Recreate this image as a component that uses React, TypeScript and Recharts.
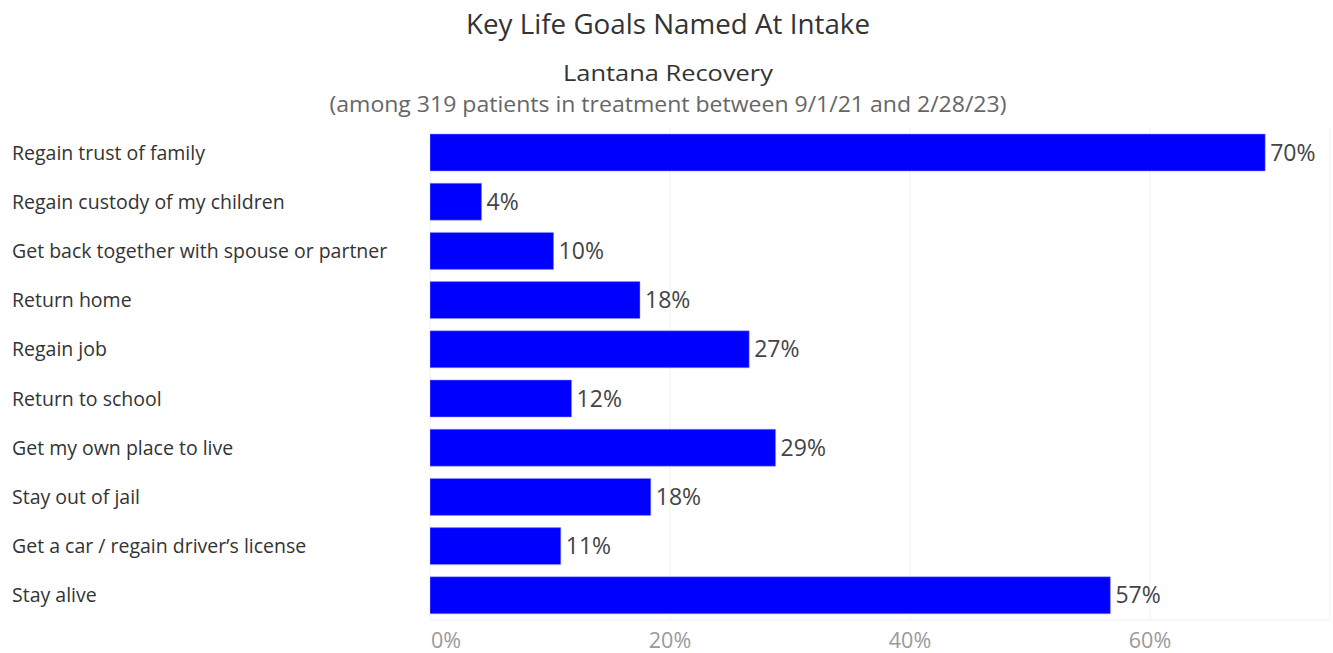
import React from "react";
import { BarChart, Bar, XAxis, YAxis, CartesianGrid, LabelList } from "recharts";

const categories = [
  "Regain trust of family",
  "Regain custody of my children",
  "Get back together with spouse or partner",
  "Return home",
  "Regain job",
  "Return to school",
  "Get my own place to live",
  "Stay out of jail",
  "Get a car / regain driver\u2019s license",
  "Stay alive",
];
const percents = [69.6, 4.3, 10.3, 17.5, 26.6, 11.8, 28.8, 18.4, 10.9, 56.7];
const xTicks = [0, 20, 40, 60];

const title = "Key Life Goals Named At Intake";
const subtitle = "Lantana Recovery";
const note = "(among 319 patients in treatment between 9/1/21 and 2/28/23)";

const data = categories.map((c, i) => ({ goal: c, pct: percents[i] }));

const FONT = "'Open Sans', 'Noto Sans', sans-serif";

const YTick = (props: any) => {
  const { y, payload } = props;
  return (
    <text x={12} y={y} dy={7} textAnchor="start" fontSize={19.5} fill="#333" fontFamily={FONT}>
      {payload.value}
    </text>
  );
};

const XTick = (props: any) => {
  const { x, y, payload } = props;
  const anchor = payload.value === 0 ? "start" : "middle";
  return (
    <text x={payload.value === 0 ? x + 1 : x} y={y} dy={20} textAnchor={anchor} fontSize={21.5} fill="#999" fontFamily={FONT}>
      {payload.value + "%"}
    </text>
  );
};

export default function App() {
  return (
    <div style={{ position: "absolute", left: 0, top: 0, width: 1333, height: 653, background: "#fff" }}>
      <svg width={1333} height={125} style={{ position: "absolute", left: 0, top: 0 }}>
        <text x={668} y={34} textAnchor="middle" fontSize={27} fill="#333" fontFamily={FONT} fontWeight={500} textLength={404} lengthAdjust="spacingAndGlyphs">
          {title}
        </text>
        <text x={668} y={81} textAnchor="middle" fontSize={22} fill="#333" fontFamily={FONT} fontWeight={500} textLength={210} lengthAdjust="spacingAndGlyphs">
          {subtitle}
        </text>
        <text x={668} y={112} textAnchor="middle" fontSize={22} fill="#666" fontFamily={FONT} textLength={677} lengthAdjust="spacingAndGlyphs">
          {note}
        </text>
      </svg>
      <div style={{ position: "absolute", left: 0, top: 0 }}>
        <BarChart
          width={1333}
          height={653}
          data={data}
          layout="vertical"
          margin={{ top: 128, right: 3, bottom: 0, left: 0 }}
          barSize={37}
        >
          <CartesianGrid horizontal={false} stroke="#f0f0f0" />
          <XAxis
            type="number"
            domain={[0, 75]}
            ticks={xTicks}
            axisLine={{ stroke: "#f0f0f0" }}
            tickLine={false}
            tick={<XTick />}
            height={33}
            allowDataOverflow
          />
          <YAxis
            type="category"
            dataKey="goal"
            width={430}
            axisLine={false}
            tickLine={false}
            tick={<YTick />}
            interval={0}
          />
          <Bar dataKey="pct" fill="#0000ff" stroke="#9a9aff" strokeWidth={0.5} isAnimationActive={false}>
            <LabelList
              dataKey="pct"
              position="right"
              offset={5}
              formatter={(v: any) => Math.round(Number(v)) + "%"}
              style={{ fontSize: 23, fill: "#444", fontFamily: FONT }}
            />
          </Bar>
        </BarChart>
      </div>
    </div>
  );
}
